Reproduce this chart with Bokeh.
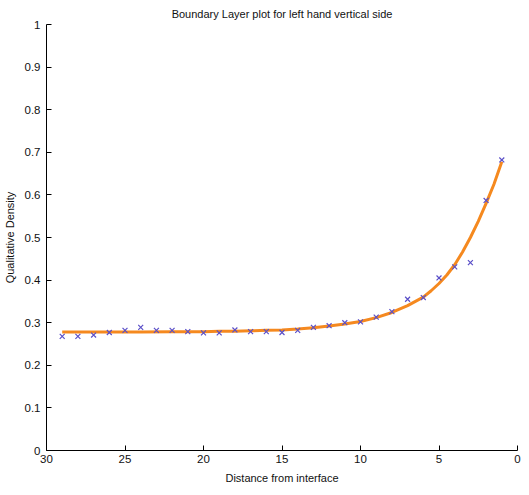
from bokeh.plotting import figure
from bokeh.models import Range1d, FixedTicker, Title
from bokeh.embed import file_html
from bokeh.resources import INLINE

# measured data points (distance, density)
dist = [29, 28, 27, 26, 25, 24, 23, 22, 21, 20, 19, 18, 17, 16, 15,
        14, 13, 12, 11, 10, 9, 8, 7, 6, 5, 4, 3, 2, 1]
density = [0.268, 0.268, 0.271, 0.277, 0.282, 0.289, 0.282, 0.282, 0.279, 0.276,
           0.276, 0.283, 0.279, 0.279, 0.277, 0.282, 0.289, 0.293, 0.300, 0.302,
           0.313, 0.326, 0.355, 0.359, 0.405, 0.431, 0.441, 0.587, 0.682]

# fitted curve
fit_x = [29, 26, 24, 22, 20, 19, 18, 17, 16, 15, 14, 13, 12, 11, 10, 9, 8, 7,
         6, 5.5, 5, 4.5, 4, 3.5, 3, 2.5, 2, 1.5, 1]
fit_y = [0.278, 0.278, 0.278, 0.279, 0.279, 0.280, 0.280, 0.281, 0.282, 0.283,
         0.285, 0.288, 0.292, 0.297, 0.303, 0.312, 0.324, 0.340, 0.360, 0.375,
         0.392, 0.412, 0.436, 0.466, 0.500, 0.538, 0.580, 0.625, 0.678]

xticks = [30, 25, 20, 15, 10, 5, 0]
yticks = [0, 0.1, 0.2, 0.3, 0.4, 0.5, 0.6, 0.7, 0.8, 0.9, 1]
ytick_labels = ["0", "0.1", "0.2", "0.3", "0.4", "0.5", "0.6", "0.7", "0.8", "0.9", "1"]

FONT = "Liberation Sans"

p = figure(width=521, height=487, output_backend="svg", toolbar_location=None,
           x_range=Range1d(30, 0), y_range=Range1d(0, 1),
           min_border_left=41, min_border_right=4, min_border_top=24, min_border_bottom=37)

p.add_layout(Title(text="Boundary Layer plot for left hand vertical side", align="center",
                   text_font=FONT, text_font_size="11px", text_font_style="normal",
                   text_color="#111111", standoff=9), "above")

p.line(fit_x, fit_y, line_color="#f5891f", line_width=3)
p.scatter(dist, density, marker="x", size=7, line_color="#5a4fc8", line_width=1.2)

p.xgrid.visible = False
p.ygrid.visible = False
p.outline_line_color = None
p.background_fill_color = "white"
p.border_fill_color = "white"

p.xaxis.ticker = FixedTicker(ticks=xticks)
p.yaxis.ticker = FixedTicker(ticks=yticks)
p.yaxis.major_label_overrides = {v: l for v, l in zip(yticks, ytick_labels)}

for ax in (p.xaxis[0], p.yaxis[0]):
    ax.major_tick_in = 5
    ax.major_tick_out = 0
    ax.minor_tick_in = 0
    ax.minor_tick_out = 0
    ax.axis_line_color = "black"
    ax.major_tick_line_color = "black"
    ax.major_label_text_font = FONT
    ax.major_label_text_font_size = "11.5px"
    ax.major_label_text_color = "#111111"
    ax.axis_label_text_font = FONT
    ax.axis_label_text_font_size = "11px"
    ax.axis_label_text_font_style = "normal"
    ax.axis_label_text_color = "#111111"

p.xaxis.axis_label = "Distance from interface"
p.yaxis.axis_label = "Qualitative Density"
p.xaxis.major_label_standoff = 4
p.yaxis.major_label_standoff = 6
p.xaxis.axis_label_standoff = 6
p.yaxis.axis_label_standoff = 6

open("out.html", "w").write(file_html(p, INLINE))
